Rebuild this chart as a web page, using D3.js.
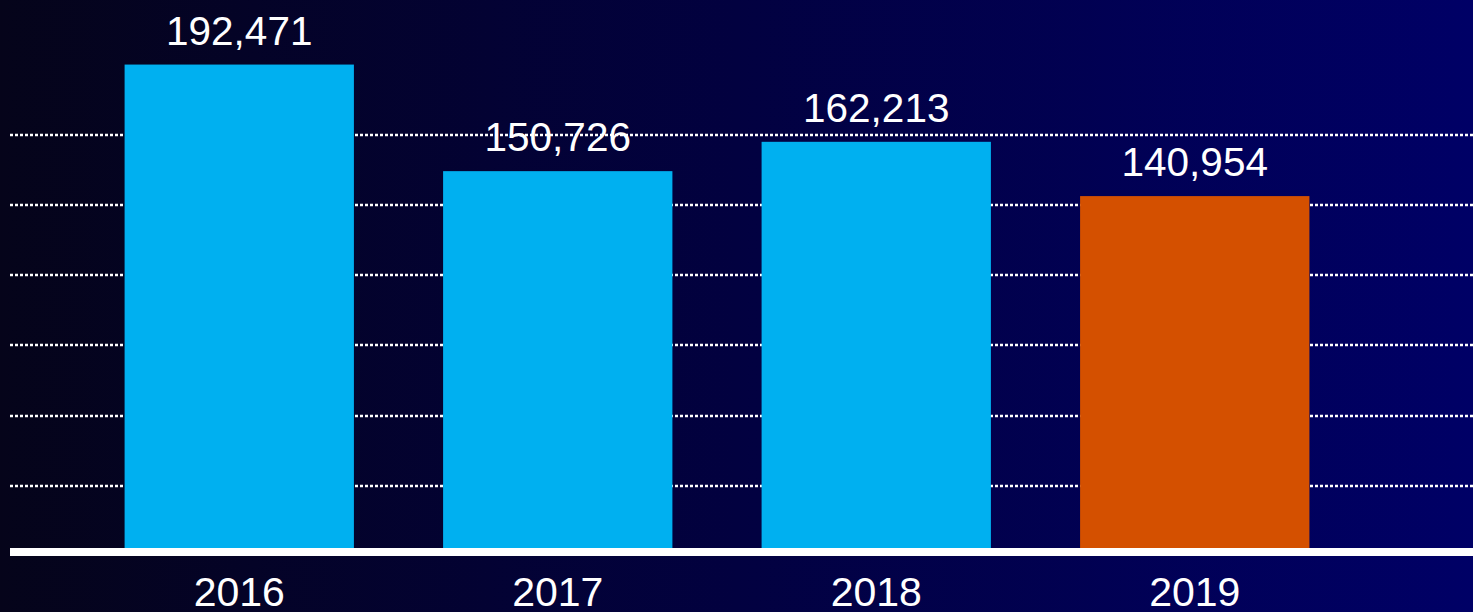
<!DOCTYPE html>
<html>
<head>
<meta charset="utf-8">
<script src="https://cdn.jsdelivr.net/npm/d3@7"></script>
<style>
  html, body { margin: 0; padding: 0; background: #000033; }
  svg { display: block; }
  text { font-family: "Liberation Sans", Arial, sans-serif; fill: #ffffff; }
</style>
</head>
<body>
<svg width="1473" height="612"></svg>
<script>
var years = ['2016', '2017', '2018', '2019'];
var values = [192471, 150726, 162213, 140954];
var highlight = ['2019'];
var gridValues = [27500, 55000, 82500, 110000, 137500, 165000];

(function () {
    'use strict';

    var svg = d3.select('svg');
    var W = 1473, H = 612;

    // background gradient, black on the left to navy on the right
    var grad = svg.append('defs').append('linearGradient')
        .attr('id', 'bg')
        .attr('x1', '0%').attr('x2', '100%')
        .attr('y1', '0%').attr('y2', '0%');
    grad.append('stop').attr('offset', '0%').attr('stop-color', '#05041a');
    grad.append('stop').attr('offset', '50%').attr('stop-color', '#020140');
    grad.append('stop').attr('offset', '100%').attr('stop-color', '#000066');

    svg.append('rect')
        .attr('width', W).attr('height', H)
        .attr('fill', 'url(#bg)');

    var x = d3.scaleBand()
        .domain(years)
        .range([80, 1354])
        .paddingInner(0.28)
        .paddingOuter(0.14);

    var y = d3.scaleLinear()
        .domain([0, 165000])
        .range([556, 134.7]);

    // dotted gridlines
    svg.append('g').attr('class', 'grid')
        .selectAll('line')
        .data(gridValues)
        .enter().append('line')
        .attr('x1', 10).attr('x2', W)
        .attr('y1', function (d) { return Math.round(y(d)); })
        .attr('y2', function (d) { return Math.round(y(d)); })
        .attr('stroke', '#ffffff')
        .attr('stroke-width', 2.5)
        .attr('stroke-dasharray', '3,2');

    var data = years.map(function (yr, i) { return { year: yr, value: values[i] }; });

    svg.append('g').attr('class', 'bars')
        .selectAll('rect')
        .data(data)
        .enter().append('rect')
        .attr('x', function (d) { return x(d.year); })
        .attr('width', x.bandwidth())
        .attr('y', function (d) { return y(d.value); })
        .attr('height', function (d) { return y(0) - y(d.value); })
        .attr('fill', function (d) {
            return highlight.indexOf(d.year) >= 0 ? '#d45000' : '#00b0f0';
        });

    // value labels
    svg.append('g').attr('class', 'labels')
        .selectAll('text')
        .data(data)
        .enter().append('text')
        .attr('x', function (d) { return x(d.year) + x.bandwidth() / 2; })
        .attr('y', function (d) { return y(d.value) - 20; })
        .attr('text-anchor', 'middle')
        .style('font-size', '40.5px')
        .text(function (d) { return d3.format(',')(d.value); });

    // baseline
    svg.append('line')
        .attr('x1', 10).attr('x2', W)
        .attr('y1', 552).attr('y2', 552)
        .attr('stroke', '#ffffff')
        .attr('stroke-width', 8);

    // year labels
    var xAxis = d3.axisBottom(x).tickSize(0).tickPadding(0);
    var ax = svg.append('g')
        .attr('transform', 'translate(0,575)')
        .call(xAxis);
    ax.select('.domain').remove();
    ax.selectAll('text')
        .attr('dy', null)
        .attr('y', 30.5)
        .style('font-size', '41px')
        .attr('fill', '#ffffff')
        .style('font-family', '"Liberation Sans", Arial, sans-serif');
}());
</script>
</body>
</html>
